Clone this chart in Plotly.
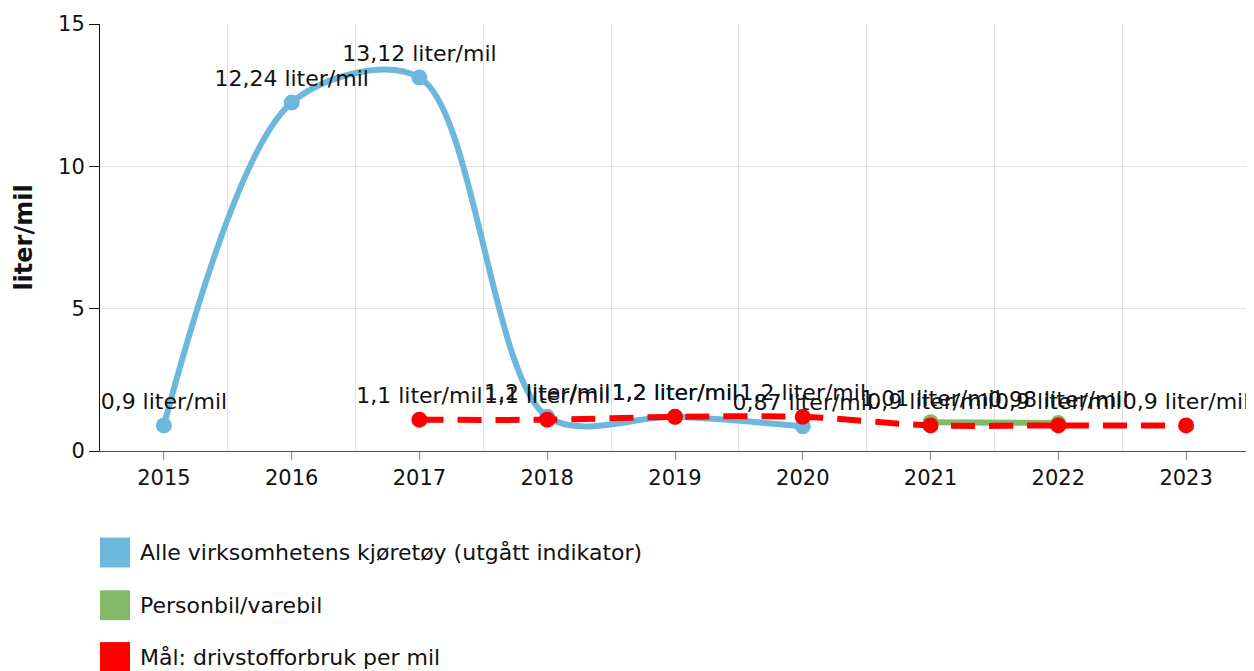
import plotly.graph_objects as go

years_all = [2015, 2016, 2017, 2018, 2019, 2020]
values_all = [0.9, 12.24, 13.12, 1.2, 1.2, 0.87]

years_car = [2021, 2022]
values_car = [1.01, 0.98]

years_goal = [2017, 2018, 2019, 2020, 2021, 2022, 2023]
values_goal = [1.1, 1.1, 1.2, 1.2, 0.9, 0.9, 0.9]

series_names = ["Alle virksomhetens kjøretøy (utgått indikator)",
                "Personbil/varebil",
                "Mål: drivstofforbruk per mil"]
colors = ["#6cb8dd", "#82b866", "#ff0000"]

tick_years = [2015, 2016, 2017, 2018, 2019, 2020, 2021, 2022, 2023]


def lbl(v):
    return (f"{v:g}").replace(".", ",") + " liter/mil"


FONT = "DejaVu Sans"
FS = 21
LFS = 22

fig = go.Figure()

fig.add_trace(go.Scatter(
    x=years_all, y=values_all, mode="lines+markers+text",
    line=dict(color=colors[0], width=6, shape="spline", smoothing=0.9),
    marker=dict(color=colors[0], size=16),
    text=[lbl(v) for v in values_all], textposition="top center",
    textfont=dict(family=FONT, size=LFS, color="#111"),
    name=series_names[0], showlegend=False, cliponaxis=False))

fig.add_trace(go.Scatter(
    x=years_car, y=values_car, mode="lines+markers+text",
    line=dict(color=colors[1], width=6, shape="spline"),
    marker=dict(color=colors[1], size=16),
    text=[lbl(v) for v in values_car], textposition="top center",
    textfont=dict(family=FONT, size=LFS, color="#111"),
    name=series_names[1], showlegend=False, cliponaxis=False))

fig.add_trace(go.Scatter(
    x=years_goal, y=values_goal, mode="lines+markers+text",
    line=dict(color=colors[2], width=6, shape="spline", smoothing=0.9,
              dash="24px,14px"),
    marker=dict(color=colors[2], size=16),
    text=[lbl(v) for v in values_goal], textposition="top center",
    textfont=dict(family=FONT, size=LFS, color="#111"),
    name=series_names[2], showlegend=False, cliponaxis=False))

# page offset (body margin) is 8px
OFF = 8
plot_top, plot_bottom, plot_left, plot_right = 22, 451, 100, 1250
pw = plot_right - plot_left
ph = plot_bottom - plot_top


def px_to_paper_x(px):
    return (px - plot_left) / pw


def px_to_paper_y(py):
    return (plot_bottom - py) / ph


shapes = []
annotations = []
legend_y = [553, 606, 658]  # pixel centres on page
for i, (nm, c) in enumerate(zip(series_names, colors)):
    yc = legend_y[i]
    shapes.append(dict(type="rect", xref="paper", yref="paper",
                       x0=px_to_paper_x(100), x1=px_to_paper_x(130),
                       y0=px_to_paper_y(yc + 15), y1=px_to_paper_y(yc - 15),
                       fillcolor=c, line=dict(width=0)))
    annotations.append(dict(xref="paper", yref="paper",
                            x=px_to_paper_x(138), y=px_to_paper_y(yc),
                            xanchor="left", yanchor="middle", showarrow=False,
                            text=nm, font=dict(family=FONT, size=LFS, color="#111")))

fig.update_layout(
    width=1246, height=663,
    margin=dict(l=plot_left - OFF, r=4, t=plot_top - OFF, b=663 - (plot_bottom - OFF)),
    paper_bgcolor="white", plot_bgcolor="white",
    font=dict(family=FONT, size=FS, color="#111"),
    shapes=shapes, annotations=annotations,
    xaxis=dict(range=[2014.5, 2023.5], tickvals=tick_years,
               ticktext=[str(y) for y in tick_years],
               showgrid=False, showline=True, linecolor="#555", linewidth=1,
               ticks="outside", ticklen=8, tickcolor="#888",
               zeroline=False,
               minor=dict(tickvals=[y + 0.5 for y in tick_years[:-1]],
                          showgrid=True, gridcolor="#e3e3e3", gridwidth=1,
                          ticks=""),
               tickfont=dict(family=FONT, size=FS)),
    yaxis=dict(range=[0, 15], tickvals=[0, 5, 10, 15],
               showgrid=True, gridcolor="#e3e3e3", gridwidth=1,
               showline=True, linecolor="#111", linewidth=1,
               ticks="outside", ticklen=10, tickcolor="#111",
               zeroline=False,
               title=dict(text="<b>liter/mil</b>", standoff=18,
                          font=dict(family=FONT, size=24)),
               tickfont=dict(family=FONT, size=FS)),
)

fig.write_html("out.html")
